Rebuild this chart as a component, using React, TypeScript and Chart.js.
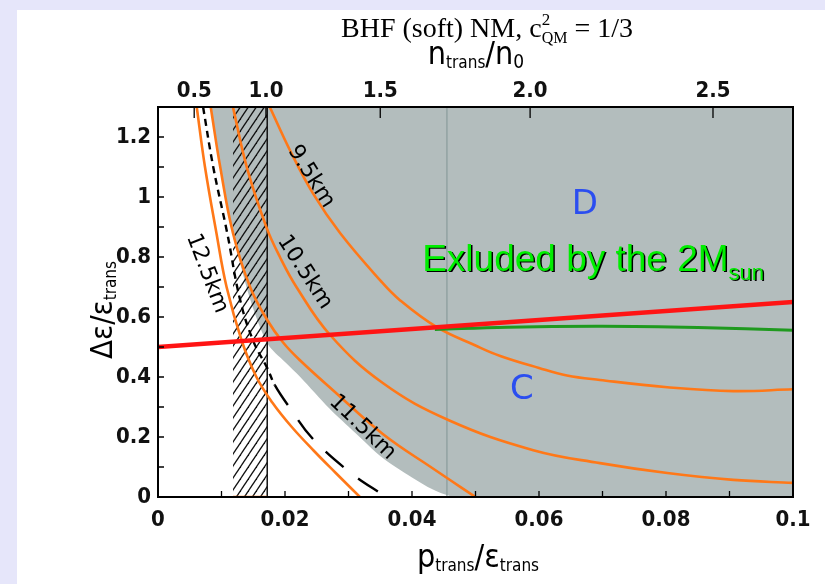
import React, { useEffect, useRef } from "react";
import { Chart, registerables } from "chart.js";

Chart.register(...registerables);

// ---------- data ----------
const xTickValues = [0, 0.02, 0.04, 0.06, 0.08, 0.1];
const xTickLabels = ["0", "0.02", "0.04", "0.06", "0.08", "0.1"];
const yTickValues = [0, 0.2, 0.4, 0.6, 0.8, 1.0, 1.2];
const yTickLabels = ["0", "0.2", "0.4", "0.6", "0.8", "1", "1.2"];
// top axis: n_trans/n0 (non-linear mapping onto p/eps)
const topTickValues = [0.0057, 0.017, 0.035, 0.0586, 0.0874];
const topTickLabels = ["0.5", "1.0", "1.5", "2.0", "2.5"];
const xMinorTicks = [0.01, 0.02, 0.03, 0.04, 0.05, 0.06, 0.07, 0.08, 0.09];
const yMinorTicks = [0.1, 0.2, 0.3, 0.4, 0.5, 0.6, 0.7, 0.8, 0.9, 1.0, 1.1, 1.2];

// excluded (2 M_sun) region boundary
const grayX = [0.0083, 0.0098, 0.0118, 0.0145, 0.0173, 0.02, 0.0224, 0.027, 0.031, 0.0354, 0.04, 0.0433, 0.047, 0.1];
const grayY = [1.3, 1.1, 0.88, 0.66, 0.51, 0.45, 0.4, 0.295, 0.215, 0.13, 0.065, 0.025, 0.0, 0.0];

// hatched band (n_trans < n0)
const hatchX = [0.0118, 0.0172];
const nZeroX = 0.0172;
const grayLineX = 0.0455;

// radius curves
const r95X = [0.0176, 0.0208, 0.0244, 0.0287, 0.035, 0.0381, 0.0439, 0.05, 0.0539, 0.06, 0.0644, 0.0696, 0.0802, 0.0906, 0.1];
const r95Y = [1.3, 1.155, 1.012, 0.879, 0.722, 0.656, 0.566, 0.505, 0.47, 0.43, 0.405, 0.39, 0.366, 0.353, 0.359];

const r105X = [0.0118, 0.014, 0.0171, 0.0192, 0.0218, 0.0271, 0.0354, 0.0458, 0.0591, 0.0696, 0.0802, 0.0906, 0.1];
const r105Y = [1.3, 1.098, 0.898, 0.8, 0.7, 0.54, 0.38, 0.256, 0.156, 0.113, 0.08, 0.057, 0.047];

const r115X = [0.0083, 0.0098, 0.0118, 0.0145, 0.0172, 0.0197, 0.0224, 0.0276, 0.0354, 0.0433, 0.05];
const r115Y = [1.3, 1.1, 0.88, 0.7, 0.59, 0.515, 0.455, 0.355, 0.21, 0.095, 0.0];

const r125X = [0.0061, 0.0074, 0.0092, 0.0108, 0.0132, 0.0155, 0.018, 0.021, 0.0245, 0.028, 0.0318];
const r125Y = [1.3, 1.1, 0.88, 0.7, 0.52, 0.4, 0.315, 0.235, 0.155, 0.08, 0.0];

const dashX = [0.0071, 0.0087, 0.0109, 0.0129, 0.015, 0.0172, 0.0184, 0.0208, 0.0243, 0.0302, 0.0359];
const dashY = [1.3, 1.1, 0.88, 0.66, 0.52, 0.43, 0.373, 0.296, 0.196, 0.083, 0.0];

const redX = [0, 0.1];
const redY = [0.5, 0.65];

const greenX = [0.0436, 0.055, 0.07, 0.085, 0.1];
const greenY = [0.558, 0.566, 0.569, 0.565, 0.556];

const bottomOrangeX = [0.0118, 0.0172];
const bottomOrangeY = [0, 0];

// curve labels (text, x, y, angle deg)
const curveLabels = [
  { t: "9.5km", x: 0.0241, y: 1.068, a: 58 },
  { t: "10.5km", x: 0.0231, y: 0.749, a: 57 },
  { t: "12.5km", x: 0.0077, y: 0.745, a: 69 },
  { t: "11.5km", x: 0.0322, y: 0.232, a: 44 },
];
const regionLabels = [
  { t: "D", x: 0.0672, y: 0.972 },
  { t: "C", x: 0.0573, y: 0.356 },
];
const excludedText = { main: "Exluded by the 2M", sub: "sun", x: 0.0416, y: 0.755 };

// ---------- helpers ----------
const pts = (xs: number[], ys: number[]) => xs.map((x, i) => ({ x, y: ys[i] }));
const COND = "'DejaVu Sans Condensed', 'DejaVu Sans', sans-serif";
const SANS = "'DejaVu Sans', sans-serif";
const ORANGE = "#ff7818";

type Part = { t: string; size: number; dy?: number; fam?: string; w?: string; stackWith?: Part };

function drawParts(ctx: CanvasRenderingContext2D, parts: Part[], x: number, y: number, align: "left" | "center", fam: string) {
  const fontOf = (p: Part) => `${p.w || "normal"} ${p.size}px ${p.fam || fam}`;
  const widths = parts.map((p) => {
    ctx.font = fontOf(p);
    let w = ctx.measureText(p.t).width;
    if (p.stackWith) {
      ctx.font = fontOf(p.stackWith);
      w = Math.max(w, ctx.measureText(p.stackWith.t).width);
    }
    return w;
  });
  const total = widths.reduce((a, b) => a + b, 0);
  let cx = align === "center" ? x - total / 2 : x;
  ctx.textAlign = "left";
  ctx.textBaseline = "alphabetic";
  parts.forEach((p, i) => {
    ctx.font = fontOf(p);
    ctx.fillText(p.t, cx, y + (p.dy || 0));
    if (p.stackWith) {
      ctx.font = fontOf(p.stackWith);
      ctx.fillText(p.stackWith.t, cx, y + (p.stackWith.dy || 0));
    }
    cx += widths[i];
  });
}

const decorPlugin = {
  id: "decor",
  afterDraw(chart: any) {
    const { ctx, chartArea: a, scales } = chart;
    const sx = scales.x, sy = scales.y;
    ctx.save();
    // frame
    ctx.strokeStyle = "#000";
    ctx.lineWidth = 2;
    ctx.strokeRect(a.left, a.top, a.right - a.left, a.bottom - a.top);
    // inner ticks
    ctx.lineWidth = 1.3;
    ctx.beginPath();
    xMinorTicks.forEach((v) => {
      const px = sx.getPixelForValue(v);
      ctx.moveTo(px, a.bottom);
      ctx.lineTo(px, a.bottom - 6);
    });
    yMinorTicks.forEach((v) => {
      const py = sy.getPixelForValue(v);
      ctx.moveTo(a.left, py);
      ctx.lineTo(a.left + 6, py);
    });
    topTickValues.forEach((v) => {
      const px = scales.x2.getPixelForValue(v);
      ctx.moveTo(px, a.top);
      ctx.lineTo(px, a.top + 11);
    });
    ctx.stroke();

    // curve labels
    ctx.fillStyle = "#000";
    ctx.font = `22px ${SANS}`;
    ctx.textAlign = "center";
    ctx.textBaseline = "middle";
    curveLabels.forEach((l) => {
      ctx.save();
      ctx.translate(sx.getPixelForValue(l.x), sy.getPixelForValue(l.y));
      ctx.rotate((l.a * Math.PI) / 180);
      ctx.fillText(l.t, 0, 0);
      ctx.restore();
    });
    // region labels
    ctx.fillStyle = "#2b4ef0";
    ctx.font = `34px ${SANS}`;
    regionLabels.forEach((l) => {
      ctx.fillText(l.t, sx.getPixelForValue(l.x), sy.getPixelForValue(l.y));
    });
    // excluded text
    const ex = sx.getPixelForValue(excludedText.x);
    const ey = sy.getPixelForValue(excludedText.y);
    const exParts: Part[] = [
      { t: excludedText.main, size: 37 },
      { t: excludedText.sub, size: 22, dy: 9 },
    ];
    ctx.fillStyle = "#000";
    drawParts(ctx, exParts, ex + 1.5, ey + 1.5, "left", "'Liberation Sans', Arial, sans-serif");
    ctx.fillStyle = "#00ee00";
    drawParts(ctx, exParts, ex, ey, "left", "'Liberation Sans', Arial, sans-serif");

    // titles
    ctx.fillStyle = "#000";
    drawParts(
      ctx,
      [
        { t: "BHF (soft) NM, c", size: 28 },
        { t: "2", size: 17, dy: -12, stackWith: { t: "QM", size: 16, dy: 6 } },
        { t: " = 1/3", size: 28 },
      ],
      470,
      27,
      "center",
      "'Liberation Serif', 'Times New Roman', serif"
    );
    drawParts(
      ctx,
      [
        { t: "n", size: 32 },
        { t: "trans", size: 17, dy: 4 },
        { t: "/n", size: 32 },
        { t: "0", size: 19, dy: 4 },
      ],
      459,
      54,
      "center",
      COND
    );
    drawParts(
      ctx,
      [
        { t: "p", size: 32 },
        { t: "trans", size: 17, dy: 4 },
        { t: "/ε", size: 32 },
        { t: "trans", size: 17, dy: 4 },
      ],
      461,
      557,
      "center",
      COND
    );
    ctx.save();
    ctx.translate(95, 300);
    ctx.rotate(-Math.PI / 2);
    drawParts(
      ctx,
      [
        { t: "Δε/ε", size: 31 },
        { t: "trans", size: 17, dy: 4 },
      ],
      0,
      0,
      "center",
      COND
    );
    ctx.restore();
    ctx.restore();
  },
};

function makeHatch(): CanvasPattern | string {
  const w = 8, h = 12;
  const c = document.createElement("canvas");
  c.width = w;
  c.height = h;
  const g = c.getContext("2d");
  if (!g) return "rgba(0,0,0,0.3)";
  g.strokeStyle = "#111";
  g.lineWidth = 1.3;
  for (const k of [-1, 0, 1]) {
    g.beginPath();
    g.moveTo(k * w - w, 2 * h);
    g.lineTo(k * w + 2 * w, -h);
    g.stroke();
  }
  return g.createPattern(c, "repeat") || "rgba(0,0,0,0.3)";
}

const tickFont = { family: COND, size: 22, weight: "bold" as const };

export default function App() {
  const ref = useRef<HTMLCanvasElement | null>(null);
  useEffect(() => {
    if (!ref.current) return;
    const hatch = makeHatch();
    const lineBase = { pointRadius: 0, fill: false, tension: 0.4 };
    const chart = new Chart(ref.current, {
      type: "line",
      data: {
        datasets: [
          {
            ...lineBase,
            data: pts(grayX, grayY),
            borderWidth: 0,
            borderColor: "rgba(0,0,0,0)",
            backgroundColor: "#b3bdbd",
            fill: "end",
            tension: 0.3,
            order: 10,
          },
          {
            ...lineBase,
            data: pts([grayLineX, grayLineX], [0, 1.3]),
            borderColor: "#8d9d9d",
            borderWidth: 1.3,
            tension: 0,
            order: 9,
          },
          {
            ...lineBase,
            data: pts(hatchX, [1.3, 1.3]),
            borderWidth: 0,
            borderColor: "rgba(0,0,0,0)",
            backgroundColor: hatch as any,
            fill: "origin",
            tension: 0,
            order: 8,
          },
          {
            ...lineBase,
            data: pts([nZeroX, nZeroX], [0, 1.3]),
            borderColor: "#111",
            borderWidth: 1.5,
            tension: 0,
            order: 7,
          },
          { ...lineBase, data: pts(r95X, r95Y), borderColor: ORANGE, borderWidth: 2.6, order: 6 },
          { ...lineBase, data: pts(r105X, r105Y), borderColor: ORANGE, borderWidth: 2.6, order: 6 },
          { ...lineBase, data: pts(r115X, r115Y), borderColor: ORANGE, borderWidth: 2.6, order: 6 },
          { ...lineBase, data: pts(r125X, r125Y), borderColor: ORANGE, borderWidth: 2.6, order: 6 },
          { ...lineBase, data: pts(bottomOrangeX, bottomOrangeY), borderColor: ORANGE, borderWidth: 2.6, tension: 0, order: 6 },
          {
            ...lineBase,
            data: pts(dashX, dashY),
            borderColor: "#000",
            borderWidth: 2.4,
            order: 5,
            segment: {
              borderDash: (c: any) => (c.p0.parsed.y > 0.38 ? [7, 5] : [24, 18]),
            },
          },
          { ...lineBase, data: pts(greenX, greenY), borderColor: "#1f9a1f", borderWidth: 3, order: 4 },
          { ...lineBase, data: pts(redX, redY), borderColor: "#ff1414", borderWidth: 4.5, tension: 0, order: 3 },
        ] as any,
      },
      options: {
        animation: false,
        responsive: false,
        devicePixelRatio: 1,
        layout: { padding: 0 },
        plugins: { legend: { display: false }, tooltip: { enabled: false }, title: { display: false } },
        scales: {
          x: {
            type: "linear",
            position: "bottom",
            min: 0,
            max: 0.1,
            afterBuildTicks: (s: any) => {
              s.ticks = xTickValues.map((v) => ({ value: v }));
            },
            ticks: {
              callback: (_v: any, i: number) => xTickLabels[i],
              font: tickFont,
              color: "#111",
              padding: 10,
              maxRotation: 0,
              autoSkip: false,
            },
            grid: { display: false, drawTicks: false },
            border: { display: false },
            afterFit: (s: any) => {
              s.height = 87;
            },
          },
          x2: {
            type: "linear",
            position: "top",
            min: 0,
            max: 0.1,
            afterBuildTicks: (s: any) => {
              s.ticks = topTickValues.map((v) => ({ value: v }));
            },
            ticks: {
              callback: (_v: any, i: number) => topTickLabels[i],
              font: tickFont,
              color: "#111",
              padding: 3,
              maxRotation: 0,
              autoSkip: false,
            },
            grid: { display: false, drawTicks: false },
            border: { display: false },
            afterFit: (s: any) => {
              s.height = 97;
            },
          },
          y: {
            type: "linear",
            min: 0,
            max: 1.3,
            afterBuildTicks: (s: any) => {
              s.ticks = yTickValues.map((v) => ({ value: v }));
            },
            ticks: {
              callback: (_v: any, i: number) => yTickLabels[i],
              font: tickFont,
              color: "#111",
              padding: 7,
              autoSkip: false,
            },
            grid: { display: false, drawTicks: false },
            border: { display: false },
            afterFit: (s: any) => {
              s.width = 141;
            },
          },
          y2: {
            type: "linear",
            position: "right",
            min: 0,
            max: 1.3,
            ticks: { display: false },
            grid: { display: false, drawTicks: false },
            border: { display: false },
            afterFit: (s: any) => {
              s.width = 32;
            },
          },
        },
      } as any,
      plugins: [decorPlugin],
    });
    return () => chart.destroy();
  }, []);

  return (
    <div style={{ position: "fixed", left: 0, top: 0, width: 825, height: 584, background: "#e6e6fa", overflow: "hidden" }}>
      <canvas
        ref={ref}
        width={808}
        height={574}
        style={{ position: "absolute", left: 17, top: 10, width: 808, height: 574, background: "#fff" }}
      />
    </div>
  );
}
